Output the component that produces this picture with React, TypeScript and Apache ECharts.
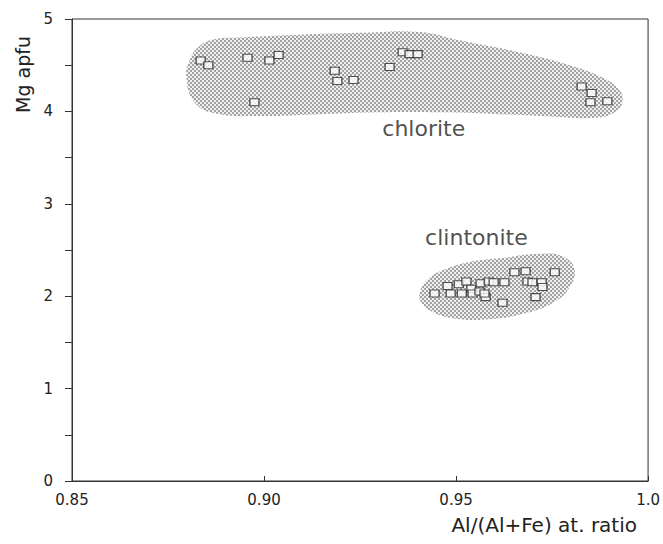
import React, { useEffect, useRef } from "react";
import * as echarts from "echarts";

// Chlorite analyses: [Al/(Al+Fe), Mg apfu]
const chloriteX = [0.8835, 0.8855, 0.8957, 0.8975, 0.9014, 0.9038, 0.9184, 0.9191, 0.9233, 0.9327, 0.9361, 0.9379, 0.9400, 0.9827, 0.9853, 0.9850, 0.9894];
const chloriteY = [4.55, 4.50, 4.58, 4.10, 4.55, 4.61, 4.44, 4.33, 4.34, 4.48, 4.64, 4.62, 4.62, 4.27, 4.20, 4.10, 4.11];

// Clintonite analyses
const clintoniteX = [0.9444, 0.9478, 0.9486, 0.9507, 0.9515, 0.9527, 0.9540, 0.9543, 0.9564, 0.9561, 0.9577, 0.9585, 0.9598, 0.9626, 0.9621, 0.9652, 0.9681, 0.9686, 0.9699, 0.9723, 0.9725, 0.9707, 0.9757, 0.9574];
const clintoniteY = [2.03, 2.11, 2.03, 2.13, 2.03, 2.16, 2.08, 2.03, 2.14, 2.05, 1.99, 2.16, 2.15, 2.15, 1.93, 2.26, 2.27, 2.16, 2.15, 2.15, 2.10, 1.99, 2.26, 2.03];

// Field outlines (data coordinates)
const chloriteFieldX = [0.8798, 0.8806, 0.8830, 0.8870, 0.8936, 0.9092, 0.9249, 0.9405, 0.9509, 0.9665, 0.9796, 0.9874, 0.9921, 0.9934, 0.9913, 0.9861, 0.9770, 0.9613, 0.9457, 0.9301, 0.9144, 0.8988, 0.8871, 0.8819];
const chloriteFieldY = [4.36, 4.55, 4.70, 4.78, 4.80, 4.83, 4.85, 4.86, 4.77, 4.64, 4.50, 4.38, 4.25, 4.12, 3.99, 3.93, 3.94, 3.97, 3.99, 3.99, 3.97, 3.95, 3.98, 4.10];
const clintoniteFieldX = [0.9405, 0.9426, 0.9465, 0.9535, 0.9613, 0.9725, 0.9783, 0.9809, 0.9796, 0.9757, 0.9684, 0.9587, 0.9496, 0.9439, 0.9410];
const clintoniteFieldY = [2.03, 2.18, 2.28, 2.37, 2.41, 2.46, 2.42, 2.28, 2.10, 1.94, 1.82, 1.75, 1.76, 1.83, 1.93];

// Field labels
const fieldNames = ["chlorite", "clintonite"];
const fieldLabelX = [0.9416, 0.9553];
const fieldLabelY = [3.82, 2.63];

// Axes
const xTickLabels: Record<string, string> = { "0.85": "0.85", "0.9": "0.90", "0.95": "0.95", "1": "1.0" };
const xMin = 0.85, xMax = 1.0, xStep = 0.05;
const yMin = 0, yMax = 5, yStep = 1;

const FONT = "'DejaVu Sans', 'Liberation Sans', Arial, sans-serif";

function zip(xs: number[], ys: number[]) {
  return xs.map((x, i) => [x, ys[i]]);
}

function makePattern(): any {
  const c = document.createElement("canvas");
  c.width = 4;
  c.height = 4;
  const ctx = c.getContext("2d")!;
  ctx.fillStyle = "#f0f0f0";
  ctx.fillRect(0, 0, 4, 4);
  ctx.fillStyle = "#a2a2a2";
  ctx.fillRect(0, 0, 2, 2);
  ctx.fillRect(2, 2, 2, 2);
  return { image: c.toDataURL("image/png"), repeat: "repeat" };
}

export default function App() {
  const ref = useRef<HTMLDivElement>(null);
  useEffect(() => {
    if (!ref.current) return;
    const chart = echarts.init(ref.current, undefined, { renderer: "svg" });
    const pattern = makePattern();
    const fieldSeries = (outline: number[][], name: string) => ({
      type: "custom",
      name,
      z: 1,
      silent: true,
      data: outline,
      renderItem: (params: any, api: any) => {
        if (params.dataIndex !== 0) return { type: "group", children: [] };
        const pts = outline.map((p) => api.coord(p));
        return {
          type: "polygon",
          shape: { points: pts, smooth: 0.45 },
          style: { fill: pattern, stroke: "none" },
        };
      },
    });
    const markerStyle = {
      symbol: "rect",
      symbolSize: [9, 7],
      itemStyle: { color: "#ffffff", borderColor: "#2a2a2a", borderWidth: 1.2 },
      z: 3,
    };
    chart.setOption({
      animation: false,
      backgroundColor: "#ffffff",
      grid: { left: 72, right: 14, top: 19, bottom: 63, show: true, borderColor: "#333", borderWidth: 1 },
      xAxis: {
        type: "value",
        min: xMin,
        max: xMax,
        interval: xStep,
        axisLine: { show: true, lineStyle: { color: "#333", width: 1 } },
        axisTick: { show: true, inside: true, length: 5, lineStyle: { color: "#333" } },
        splitLine: { show: false },
        axisLabel: {
          margin: 11,
          fontSize: 15,
          fontFamily: FONT,
          color: "#222",
          formatter: (v: number) => xTickLabels[String(+v.toFixed(2))] ?? v.toFixed(2),
        },
      },
      yAxis: {
        type: "value",
        min: yMin,
        max: yMax,
        interval: yStep,
        axisLine: { show: true, lineStyle: { color: "#333", width: 1 } },
        axisTick: { show: true, inside: false, length: 7, lineStyle: { color: "#333" } },
        minorTick: { show: true, splitNumber: 2, length: 7, lineStyle: { color: "#333" } },
        splitLine: { show: false },
        axisLabel: { margin: 19, fontSize: 15, fontFamily: FONT, color: "#222" },
      },
      graphic: [
        {
          type: "text",
          rotation: Math.PI / 2,
          style: { text: "Mg apfu", fontSize: 19, fontFamily: FONT, fill: "#222" },
          x: 13,
          y: 113,
        },
        {
          type: "text",
          right: 26,
          top: 515,
          style: { text: "Al/(Al+Fe) at. ratio", fontSize: 20, fontFamily: FONT, fill: "#222" },
        },
      ],
      series: [
        fieldSeries(zip(chloriteFieldX, chloriteFieldY), "chlorite field"),
        fieldSeries(zip(clintoniteFieldX, clintoniteFieldY), "clintonite field"),
        { type: "scatter", name: "chlorite", data: zip(chloriteX, chloriteY), ...markerStyle },
        { type: "scatter", name: "clintonite", data: zip(clintoniteX, clintoniteY), ...markerStyle },
        {
          type: "scatter",
          name: "labels",
          symbolSize: 0,
          z: 4,
          data: fieldNames.map((n, i) => ({ name: n, value: [fieldLabelX[i], fieldLabelY[i]] })),
          label: {
            show: true,
            position: "inside",
            formatter: "{b}",
            fontSize: 22,
            fontFamily: FONT,
            color: "#222",
          },
        },
      ],
    });
    return () => chart.dispose();
  }, []);
  return <div ref={ref} style={{ position: "fixed", left: 0, top: 0, width: 663, height: 544 }} />;
}
